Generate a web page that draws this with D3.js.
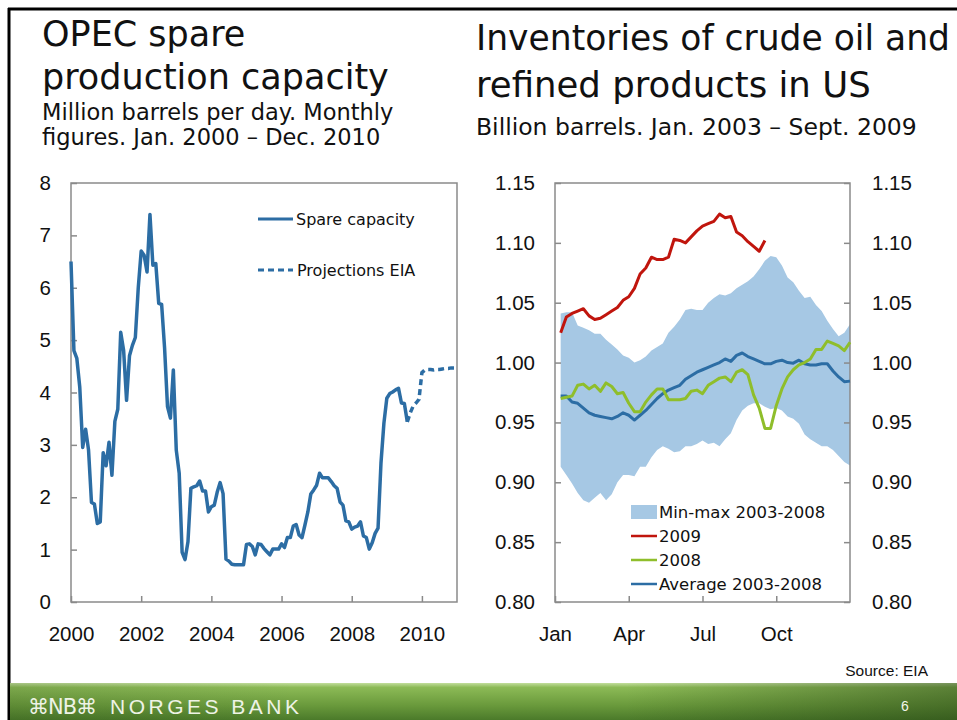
<!DOCTYPE html>
<html>
<head>
<meta charset="utf-8">
<title>OPEC spare capacity and US inventories</title>
<script src="https://d3js.org/d3.v7.min.js"></script>
<style>
    body { margin: 0; background: #fff; }
    svg { display: block; font-family: "Liberation Sans", Arial, sans-serif; }
    .tick text { fill: #111; }
    .wide { font-family: "DejaVu Sans", sans-serif; }
</style>
</head>
<body>
<script>
// OPEC spare capacity, million barrels per day, monthly from Jan 2000 (index 0)
const spareCapacity = [
    6.5, 4.8, 4.65, 4.1, 2.95, 3.3, 2.9, 1.9, 1.87, 1.5, 1.53, 2.85,
    2.6, 3.05, 2.42, 3.45, 3.68, 5.15, 4.8, 3.85, 4.7, 4.9, 5.05, 6.0,
    6.7, 6.62, 6.3, 7.4, 6.43, 6.46, 5.7, 5.68, 4.85, 3.73, 3.51, 4.43,
    2.9, 2.46, 0.95, 0.81, 1.15, 2.17, 2.2, 2.22, 2.31, 2.12, 2.12, 1.72,
    1.82, 1.85, 2.1, 2.28, 2.07, 0.82, 0.78, 0.72, 0.71, 0.71, 0.71, 0.71,
    1.1, 1.11, 1.06, 0.9, 1.11, 1.1, 1.02, 0.96, 0.9, 1.01, 1.01, 1.01,
    1.11, 1.04, 1.23, 1.23, 1.45, 1.48, 1.28, 1.23, 1.47, 1.72, 2.06, 2.14,
    2.23, 2.46, 2.37, 2.37, 2.37, 2.3, 2.22, 2.17, 1.91, 1.85, 1.55, 1.53,
    1.39, 1.43, 1.45, 1.53, 1.26, 1.23, 1.01, 1.13, 1.31, 1.41, 2.65, 3.41,
    3.89, 3.98, 4.01, 4.05, 4.08, 3.8, 3.79, 3.44
];
// EIA projections, continuing from the last actual month (index 115)
const projStart = 115;
const projectionsEIA = [
    3.44, 3.61, 3.74, 3.8, 3.87, 4.38, 4.43, 4.44, 4.44, 4.43, 4.44, 4.44,
    4.45, 4.46, 4.46, 4.47, 4.47
];
const yearTicks = [2000, 2002, 2004, 2006, 2008, 2010];
const spareTicks = [0, 1, 2, 3, 4, 5, 6, 7, 8];

// US inventories, billion barrels, weekly (week 1..)
const inv2009 = [
    1.025, 1.038, 1.041, 1.043, 1.045, 1.039, 1.036, 1.037, 1.040, 1.043,
    1.046, 1.052, 1.055, 1.062, 1.074, 1.079, 1.088, 1.086, 1.086, 1.088,
    1.103, 1.102, 1.100, 1.105, 1.110, 1.114, 1.116, 1.118, 1.124, 1.121,
    1.122, 1.109, 1.106, 1.101, 1.097, 1.093, 1.102
];
const inv2008 = [
    0.970, 0.971, 0.972, 0.981, 0.982, 0.978, 0.981, 0.976, 0.983, 0.980,
    0.974, 0.975, 0.966, 0.959, 0.959, 0.967, 0.973, 0.978, 0.978, 0.969,
    0.969, 0.969, 0.970, 0.976, 0.977, 0.974, 0.981, 0.984, 0.987, 0.988,
    0.984, 0.992, 0.994, 0.990, 0.973, 0.962, 0.945, 0.945, 0.964, 0.978,
    0.988, 0.994, 0.998, 1.000, 1.003, 1.011, 1.011, 1.018, 1.016, 1.014,
    1.010, 1.017
];
const invAverage = [
    0.972, 0.972, 0.967, 0.966, 0.962, 0.958, 0.956, 0.955, 0.954, 0.953,
    0.955, 0.958, 0.956, 0.952, 0.956, 0.960, 0.965, 0.970, 0.974, 0.977,
    0.979, 0.981, 0.986, 0.989, 0.992, 0.994, 0.996, 0.998, 1.000, 1.003,
    1.001, 1.006, 1.008, 1.005, 1.003, 1.001, 0.999, 0.999, 1.001, 1.002,
    1.000, 0.9995, 1.002, 0.999, 0.998, 0.998, 0.999, 0.999, 0.993, 0.988,
    0.984, 0.9845
];
const invMax = [
    1.041, 1.042, 1.042, 1.031, 1.029, 1.027, 1.024, 1.024, 1.019, 1.015,
    1.011, 1.006, 1.004, 1.000, 1.002, 1.005, 1.010, 1.013, 1.016, 1.025,
    1.030, 1.036, 1.044, 1.045, 1.044, 1.044, 1.050, 1.054, 1.057, 1.056,
    1.058, 1.062, 1.065, 1.068, 1.072, 1.078, 1.085, 1.089, 1.088, 1.081,
    1.071, 1.067, 1.060, 1.054, 1.055, 1.048, 1.043, 1.035, 1.028, 1.022,
    1.025, 1.032
];
const invMin = [
    0.913, 0.906, 0.899, 0.891, 0.885, 0.883, 0.887, 0.891, 0.885, 0.890,
    0.900, 0.906, 0.906, 0.905, 0.913, 0.913, 0.921, 0.927, 0.930, 0.928,
    0.925, 0.926, 0.930, 0.930, 0.932, 0.935, 0.932, 0.933, 0.930, 0.936,
    0.941, 0.952, 0.960, 0.964, 0.966, 0.966, 0.963, 0.961, 0.962, 0.960,
    0.955, 0.953, 0.949, 0.940, 0.936, 0.933, 0.930, 0.930, 0.927, 0.922,
    0.917, 0.914
];
const monthTicks = [0, 13, 26, 39];
const monthLabels = ["Jan", "Apr", "Jul", "Oct"];
const invTicks = [0.80, 0.85, 0.90, 0.95, 1.00, 1.05, 1.10, 1.15];

const W = 957, H = 720;
const blue = "#2c6da4", red = "#c0150d", green = "#8fbe2b", band = "#a6c8e4";
const axisGrey = "#8a8a8a";

const svg = d3.select("body").append("svg")
    .attr("width", W)
    .attr("height", H);

svg.append("rect").attr("width", W).attr("height", H).attr("fill", "#fff");

// black frame (left and top)
svg.append("line").attr("x1", 9).attr("x2", 9).attr("y1", 8).attr("y2", H)
    .attr("stroke", "#000").attr("stroke-width", 3);
svg.append("line").attr("x1", 8).attr("x2", W).attr("y1", 9).attr("y2", 9)
    .attr("stroke", "#000").attr("stroke-width", 3);

// titles
function addText(x, y, size, str, anchor) {
    return svg.append("text")
        .attr("class", "wide")
        .attr("x", x).attr("y", y)
        .attr("font-size", size)
        .attr("fill", "#111")
        .attr("text-anchor", anchor || "start")
        .text(str);
}
addText(42, 46, 35, "OPEC spare");
addText(42, 89, 35, "production capacity");
addText(42, 120, 22.5, "Million barrels per day. Monthly");
addText(42, 145, 22.5, "figures. Jan. 2000 \u2013 Dec. 2010");

addText(476, 50, 35, "Inventories of crude oil and")
    .attr("textLength", 474).attr("lengthAdjust", "spacingAndGlyphs");
addText(476, 97, 35.5, "refined products in US");
addText(476, 135, 23.5, "Billion barrels. Jan. 2003 \u2013 Sept. 2009");

// ---------- left chart ----------
const L = { left: 71, right: 457, top: 183, bottom: 602 };
const xL = d3.scaleLinear().domain([2000, 2011]).range([L.left, L.right]);
const yL = d3.scaleLinear().domain([0, 8]).range([L.bottom, L.top]);

const gL = svg.append("g");

function styleAxis(g) {
    g.select(".domain").remove();
    g.selectAll(".tick line").attr("stroke", axisGrey).attr("stroke-width", 1.5);
    g.selectAll(".tick text").attr("font-size", 20.5).attr("font-family", "Liberation Sans, Arial, sans-serif");
}

gL.append("g")
    .attr("transform", `translate(${L.left},0)`)
    .call(d3.axisLeft(yL).tickValues(spareTicks).tickSize(-6).tickPadding(20).tickFormat(d3.format("d")))
    .call(styleAxis);

gL.append("g")
    .attr("transform", `translate(0,${L.bottom})`)
    .call(d3.axisBottom(xL).tickValues(yearTicks).tickSize(-6).tickPadding(24).tickFormat(d3.format("d")))
    .call(styleAxis);

gL.append("rect")
    .attr("x", L.left).attr("y", L.top)
    .attr("width", L.right - L.left).attr("height", L.bottom - L.top)
    .attr("fill", "none").attr("stroke", axisGrey).attr("stroke-width", 1.5);

const lineL = d3.line()
    .x(d => xL(2000 + d.m / 12))
    .y(d => yL(d.v));

gL.append("path")
    .datum(spareCapacity.map((v, i) => ({ m: i, v: v })))
    .attr("d", lineL)
    .attr("fill", "none").attr("stroke", blue).attr("stroke-width", 3.5)
    .attr("stroke-linejoin", "round");

gL.append("path")
    .datum(projectionsEIA.map((v, i) => ({ m: projStart + i, v: v })))
    .attr("d", lineL)
    .attr("fill", "none").attr("stroke", blue).attr("stroke-width", 3.5)
    .attr("stroke-dasharray", "6,4");

// left legend
const legL = gL.append("g");
legL.append("line").attr("x1", 258).attr("x2", 293).attr("y1", 219).attr("y2", 219)
    .attr("stroke", blue).attr("stroke-width", 3);
legL.append("text").attr("class", "wide").attr("x", 296).attr("y", 219).attr("dy", "0.35em")
    .attr("font-size", 16).attr("fill", "#111").text("Spare capacity");
legL.append("line").attr("x1", 258).attr("x2", 293).attr("y1", 270).attr("y2", 270)
    .attr("stroke", blue).attr("stroke-width", 3).attr("stroke-dasharray", "6,4");
legL.append("text").attr("class", "wide").attr("x", 297).attr("y", 270).attr("dy", "0.35em")
    .attr("font-size", 16).attr("fill", "#111").text("Projections EIA");

// ---------- right chart ----------
const R = { left: 555, right: 850, top: 183, bottom: 602 };
const xR = d3.scaleLinear().domain([0, 52]).range([R.left, R.right]);
const yR = d3.scaleLinear().domain([0.80, 1.15]).range([R.bottom, R.top]);

const gR = svg.append("g");

gR.append("path")
    .datum(invMax.map((v, i) => ({ w: i + 1, hi: v, lo: invMin[i] })))
    .attr("d", d3.area().x(d => xR(d.w)).y0(d => yR(d.lo)).y1(d => yR(d.hi)))
    .attr("fill", band);

gR.append("g")
    .attr("transform", `translate(${R.left},0)`)
    .call(d3.axisLeft(yR).tickValues(invTicks).tickSize(-6).tickPadding(20).tickFormat(d3.format(".2f")))
    .call(styleAxis);

gR.append("g")
    .attr("transform", `translate(${R.right},0)`)
    .call(d3.axisRight(yR).tickValues(invTicks).tickSize(-6).tickPadding(22).tickFormat(d3.format(".2f")))
    .call(styleAxis);

gR.append("g")
    .attr("transform", `translate(0,${R.bottom})`)
    .call(d3.axisBottom(xR).tickValues(monthTicks).tickSize(-6).tickPadding(24)
        .tickFormat((d, i) => monthLabels[i]))
    .call(styleAxis);

gR.append("rect")
    .attr("x", R.left).attr("y", R.top)
    .attr("width", R.right - R.left).attr("height", R.bottom - R.top)
    .attr("fill", "none").attr("stroke", axisGrey).attr("stroke-width", 1.5);

const lineR = d3.line().x((d, i) => xR(i + 1)).y(d => yR(d));

[[invAverage, blue], [inv2008, green], [inv2009, red]].forEach(([series, col]) => {
    gR.append("path")
        .datum(series)
        .attr("d", lineR)
        .attr("fill", "none").attr("stroke", col).attr("stroke-width", 3)
        .attr("stroke-linejoin", "round");
});

// right legend
const legR = gR.append("g");
const legItems = [
    { label: "Min-max 2003-2008", type: "area", col: band, y: 512 },
    { label: "2009", type: "line", col: red, y: 536 },
    { label: "2008", type: "line", col: green, y: 560 },
    { label: "Average 2003-2008", type: "line", col: blue, y: 584 }
];
legItems.forEach(it => {
    if (it.type === "area") {
        legR.append("rect").attr("x", 631).attr("y", it.y - 7).attr("width", 26).attr("height", 14)
            .attr("fill", it.col);
    } else {
        legR.append("line").attr("x1", 631).attr("x2", 657).attr("y1", it.y).attr("y2", it.y)
            .attr("stroke", it.col).attr("stroke-width", 2.5);
    }
    legR.append("text").attr("class", "wide").attr("x", 659).attr("y", it.y).attr("dy", "0.35em")
        .attr("font-size", 16.5).attr("fill", "#111").text(it.label);
});

// source
svg.append("text").attr("x", 928).attr("y", 676).attr("font-size", 15.5)
    .attr("fill", "#111").attr("text-anchor", "end").text("Source: EIA");

// ---------- footer ----------
const defs = svg.append("defs");
const gv = defs.append("linearGradient").attr("id", "footV")
    .attr("x1", 0).attr("y1", 0).attr("x2", 0).attr("y2", 1);
gv.append("stop").attr("offset", 0).attr("stop-color", "#c2de9c");
gv.append("stop").attr("offset", 0.12).attr("stop-color", "#8cba56");
gv.append("stop").attr("offset", 0.6).attr("stop-color", "#6a9a3c");
gv.append("stop").attr("offset", 1).attr("stop-color", "#4b7a2a");
const gh = defs.append("linearGradient").attr("id", "footH")
    .attr("x1", 0).attr("y1", 0).attr("x2", 1).attr("y2", 0);
gh.append("stop").attr("offset", 0).attr("stop-color", "#1f3a10").attr("stop-opacity", 0.15);
gh.append("stop").attr("offset", 0.3).attr("stop-color", "#1f3a10").attr("stop-opacity", 0);
gh.append("stop").attr("offset", 0.65).attr("stop-color", "#1f3a10").attr("stop-opacity", 0);
gh.append("stop").attr("offset", 1).attr("stop-color", "#1f3a10").attr("stop-opacity", 0.45);

svg.append("rect").attr("x", 10).attr("y", 683).attr("width", W - 10).attr("height", H - 683)
    .attr("fill", "url(#footV)");
svg.append("rect").attr("x", 10).attr("y", 683).attr("width", W - 10).attr("height", H - 683)
    .attr("fill", "url(#footH)");

svg.append("text").attr("x", 28).attr("y", 714)
    .attr("font-family", "DejaVu Sans, sans-serif").attr("font-size", 21)
    .attr("fill", "#eef3e6").attr("letter-spacing", -1)
    .text("\u2318NB\u2318");
svg.append("text").attr("x", 110).attr("y", 714)
    .attr("font-family", "Liberation Sans, Arial, sans-serif").attr("font-size", 21)
    .attr("fill", "#eef3e6").attr("letter-spacing", 3.5)
    .text("NORGES BANK");
svg.append("text").attr("x", 905).attr("y", 711)
    .attr("font-size", 14).attr("fill", "#f2f6ea").attr("text-anchor", "middle")
    .text("6");
</script>
</body>
</html>
